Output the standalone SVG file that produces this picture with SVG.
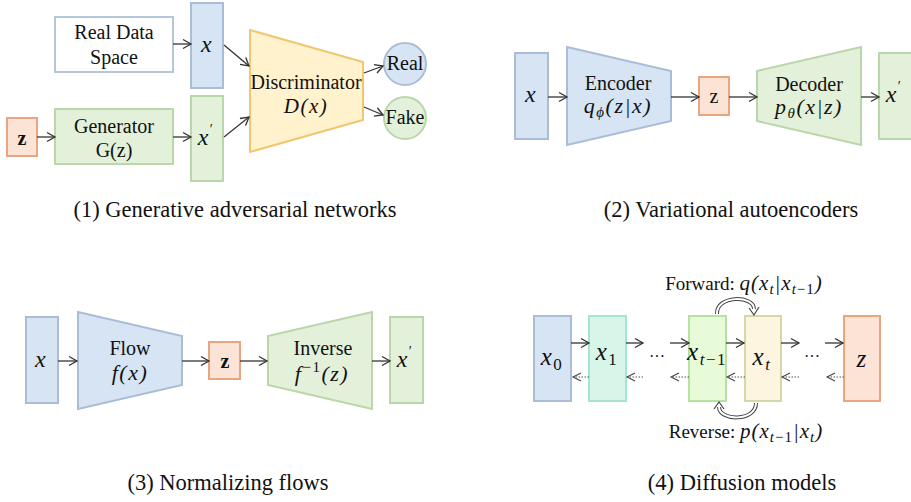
<svg xmlns="http://www.w3.org/2000/svg" width="911" height="502" viewBox="0 0 911 502">
<defs>
<marker id="ah" markerUnits="userSpaceOnUse" markerWidth="12" markerHeight="12" refX="8" refY="5" orient="auto" overflow="visible">
<path d="M0,0.5 L8,5 L0,9.5" fill="none" stroke="#333" stroke-width="1.3"/>
</marker>
<marker id="ah2" markerUnits="userSpaceOnUse" markerWidth="12" markerHeight="12" refX="8" refY="5" orient="auto" overflow="visible">
<path d="M0,1 L8,5 L0,9" fill="none" stroke="#444" stroke-width="1.1"/>
</marker>
</defs>
<style>
.t{font-family:"Liberation Serif","Times New Roman",serif;fill:#111;text-anchor:middle}
.m{font-family:"Liberation Serif","Times New Roman",serif;font-style:italic;fill:#111;text-anchor:middle;letter-spacing:1.5px}
.cap{font-family:"Liberation Serif","Times New Roman",serif;font-size:22.5px;fill:#111;text-anchor:middle}
.blue{fill:#d6e4f4;stroke:#a9bed6;stroke-width:2}
.green{fill:#e3f1da;stroke:#b9d7aa;stroke-width:2}
.orange{fill:#fbe4d6;stroke:#e9a57f;stroke-width:2}
.yellow{fill:#fff2cc;stroke:#f0c66e;stroke-width:2}
.white{fill:#fff;stroke:#b4c7dd;stroke-width:2}
.a{stroke:#333;stroke-width:1.3;fill:none;marker-end:url(#ah)}
.d{stroke:#555;stroke-width:1.1;fill:none;stroke-dasharray:1.5 1.5;marker-end:url(#ah2)}
</style>
<rect width="911" height="502" fill="#fff"/>

<!-- Panel 1: GAN -->
<g id="real-data"><rect class="white" x="55" y="17" width="118" height="55"/>
<text class="t" x="114" y="39" font-size="20">Real Data</text>
<text class="t" x="114" y="64" font-size="20">Space</text></g>
<g id="gan-x"><rect class="blue" x="191" y="3" width="32" height="85"/>
<text class="m" x="207" y="52" font-size="24">x</text></g>
<g id="gan-z"><rect class="orange" x="7" y="118" width="30" height="38"/>
<text class="t" x="22" y="145" font-size="20" font-weight="bold">z</text></g>
<g id="generator"><rect class="green" x="55" y="109" width="118" height="55"/>
<text class="t" x="114" y="133" font-size="20">Generator</text>
<text class="t" x="114" y="157" font-size="20">G(z)</text></g>
<g id="gan-xp"><rect class="green" x="191" y="96" width="32" height="85"/>
<text class="m" x="206" y="145" font-size="24">x<tspan font-size="14" dy="-11" font-style="normal">′</tspan></text></g>
<g id="discriminator"><polygon class="yellow" points="250,30 363,62 363,120 250,152"/>
<text class="t" x="306" y="89" font-size="20">Discriminator</text>
<text class="m" x="306" y="113" font-size="21">D(x)</text></g>
<g id="real"><circle class="blue" cx="405" cy="64" r="21"/>
<text class="t" x="405" y="70" font-size="20">Real</text></g>
<g id="fake"><circle class="green" cx="405" cy="118" r="21"/>
<text class="t" x="405" y="124" font-size="20">Fake</text></g>
<text class="cap" x="235" y="217">(1) Generative adversarial networks</text>

<!-- Panel 2: VAE -->
<g id="vae-x"><rect class="blue" x="515" y="53" width="33" height="86"/>
<text class="m" x="531" y="102" font-size="24">x</text></g>
<g id="encoder"><polygon class="blue" points="567,47 671,71 671,121 567,145"/>
<text class="t" x="618" y="90" font-size="20">Encoder</text>
<text class="m" x="618" y="113" font-size="22">q<tspan font-size="15" dy="4">ϕ</tspan><tspan dy="-4">(z|x)</tspan></text></g>
<g id="vae-z"><rect class="orange" x="699" y="77" width="30" height="38"/>
<text class="t" x="714" y="103" font-size="20">z</text></g>
<g id="decoder"><polygon class="green" points="757,71 861,47 861,145 757,121"/>
<text class="t" x="809" y="91" font-size="20">Decoder</text>
<text class="m" x="809" y="114" font-size="22">p<tspan font-size="15" dy="4">θ</tspan><tspan dy="-4">(x|z)</tspan></text></g>
<g id="vae-xp"><rect class="green" x="879" y="53" width="34" height="86"/>
<text class="m" x="894" y="102" font-size="24">x<tspan font-size="14" dy="-11" font-style="normal">′</tspan></text></g>
<text class="cap" x="731" y="217">(2) Variational autoencoders</text>

<!-- Panel 3: Normalizing flows -->
<g id="nf-x"><rect class="blue" x="26" y="317" width="32" height="86"/>
<text class="m" x="41" y="367" font-size="24">x</text></g>
<g id="flow"><polygon class="blue" points="78,312 182,336 182,385 78,409"/>
<text class="t" x="130" y="355" font-size="20">Flow</text>
<text class="m" x="130" y="380" font-size="22">f(x)</text></g>
<g id="nf-z"><rect class="orange" x="209" y="342" width="31" height="37"/>
<text class="t" x="225" y="368" font-size="20" font-weight="bold">z</text></g>
<g id="inverse"><polygon class="green" points="268,336 372,312 372,409 268,385"/>
<text class="t" x="323" y="355" font-size="20">Inverse</text>
<text class="m" x="322" y="381" font-size="22">f<tspan font-size="15" dy="-9" font-style="normal">−1</tspan><tspan dy="9">(z)</tspan></text></g>
<g id="nf-xp"><rect class="green" x="390" y="317" width="33" height="86"/>
<text class="m" x="405" y="367" font-size="24">x<tspan font-size="14" dy="-11" font-style="normal">′</tspan></text></g>
<text class="cap" x="228" y="490">(3) Normalizing flows</text>

<!-- Panel 4: Diffusion -->
<g id="x0"><rect x="534" y="316" width="37" height="85" fill="#d6e4f4" stroke="#a9bed6" stroke-width="2"/>
<text class="m" x="552" y="365" font-size="25" letter-spacing="0">x<tspan font-size="17" dy="5" font-style="normal">0</tspan></text></g>
<g id="x1"><rect x="589" y="316" width="37" height="85" fill="#d8f5ea" stroke="#a6e3d0" stroke-width="2"/>
<text class="m" x="607" y="360" font-size="25" letter-spacing="0">x<tspan font-size="17" dy="5" font-style="normal">1</tspan></text></g>
<g id="xt1"><rect x="689" y="316" width="37" height="85" fill="#e8fbd9" stroke="#b5e2a0" stroke-width="2"/>
<text class="m" x="707" y="360" font-size="25" letter-spacing="0">x<tspan font-size="17" dy="5">t</tspan><tspan font-size="17" font-style="normal">−1</tspan></text></g>
<g id="xt"><rect x="745" y="316" width="36" height="85" fill="#fdf5e0" stroke="#d6d7a6" stroke-width="2"/>
<text class="m" x="762" y="365" font-size="25" letter-spacing="0">x<tspan font-size="17" dy="5">t</tspan></text></g>
<g id="dz"><rect x="844" y="316" width="36" height="85" fill="#fbe4d6" stroke="#e9a57f" stroke-width="2"/>
<text class="m" x="862" y="367" font-size="25" letter-spacing="0">z</text></g>
<text class="t" x="657" y="362" font-size="16">···</text>
<text class="t" x="812" y="362" font-size="16">···</text>
<g id="forward-label"><text class="t" x="744" y="290" font-size="19">Forward: <tspan font-style="italic" font-size="21" letter-spacing="1">q(x<tspan font-size="15" dy="4">t</tspan><tspan dy="-4">|x</tspan><tspan font-size="15" dy="4">t</tspan><tspan font-size="15" font-style="normal">−1</tspan><tspan dy="-4">)</tspan></tspan></text></g>
<g id="reverse-label"><text class="t" x="746" y="438" font-size="19">Reverse: <tspan font-style="italic" font-size="21" letter-spacing="1">p(x<tspan font-size="15" dy="4">t</tspan><tspan font-size="15" font-style="normal">−1</tspan><tspan dy="-4">|x</tspan><tspan font-size="15" dy="4">t</tspan><tspan dy="-4">)</tspan></tspan></text></g>

<!-- Connectors -->
<g id="connectors">
<line class="a" x1="173" y1="44" x2="191" y2="44"/>
<line class="a" x1="37" y1="137" x2="55" y2="137"/>
<line class="a" x1="173" y1="137" x2="191" y2="137"/>
<line class="a" x1="224" y1="45" x2="249" y2="66"/>
<line class="a" x1="224" y1="137" x2="249" y2="117"/>
<line class="a" x1="364" y1="73" x2="383" y2="66"/>
<line class="a" x1="364" y1="107" x2="383" y2="115"/>

<line class="a" x1="548" y1="97" x2="567" y2="97"/>
<line class="a" x1="671" y1="97" x2="699" y2="97"/>
<line class="a" x1="729" y1="97" x2="757" y2="97"/>
<line class="a" x1="861" y1="97" x2="879" y2="97"/>

<line class="a" x1="58" y1="361" x2="77" y2="361"/>
<line class="a" x1="182" y1="361" x2="209" y2="361"/>
<line class="a" x1="240" y1="361" x2="267" y2="361"/>
<line class="a" x1="372" y1="361" x2="390" y2="361"/>

<line class="a" x1="571" y1="343" x2="589" y2="343"/>
<line class="a" x1="626" y1="343" x2="643" y2="343"/>
<line class="a" x1="670" y1="343" x2="689" y2="343"/>
<line class="a" x1="726" y1="343" x2="744" y2="343"/>
<line class="a" x1="781" y1="343" x2="799" y2="343"/>
<line class="a" x1="825" y1="343" x2="843" y2="343"/>

<line class="d" x1="589" y1="377" x2="573" y2="377"/>
<line class="d" x1="643" y1="377" x2="627" y2="377"/>
<line class="d" x1="689" y1="377" x2="671" y2="377"/>
<line class="d" x1="745" y1="377" x2="727" y2="377"/>
<line class="d" x1="799" y1="377" x2="782" y2="377"/>
<line class="d" x1="844" y1="377" x2="827" y2="377"/>

<g id="forward-arc">
<path d="M717,314 C716,295 754,295 754,309" fill="none" stroke="#444" stroke-width="4"/>
<path d="M717,314 C716,295 754,295 754,309" fill="none" stroke="#fff" stroke-width="2"/>
<path d="M749,308 L754,315 L759,307" fill="none" stroke="#444" stroke-width="1.2"/>
</g>
<g id="reverse-arc">
<path d="M756,403 C756,422 719,421 719,407" fill="none" stroke="#444" stroke-width="4"/>
<path d="M756,403 C756,422 719,421 719,407" fill="none" stroke="#fff" stroke-width="2"/>
<path d="M714,409 L719,402 L724,409" fill="none" stroke="#444" stroke-width="1.2"/>
</g>
</g>
<text class="cap" x="742" y="490">(4) Diffusion models</text>
</svg>
